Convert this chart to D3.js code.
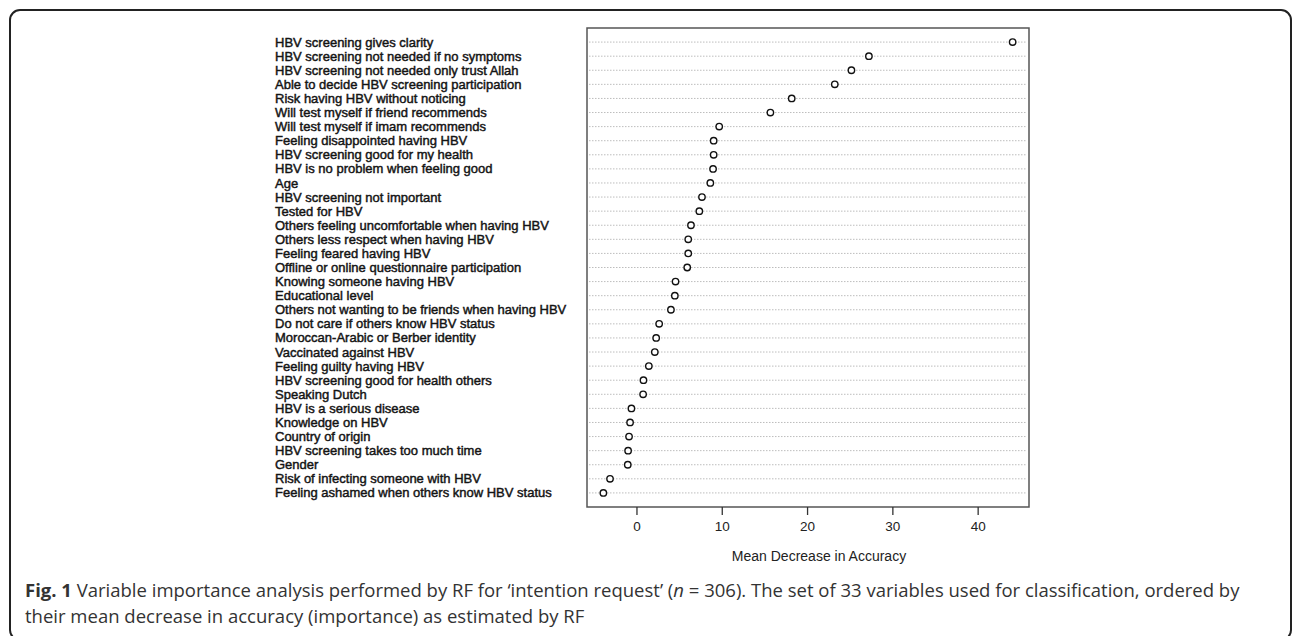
<!DOCTYPE html>
<html>
<head>
<meta charset="utf-8">
<script src="https://cdn.jsdelivr.net/npm/d3@7"></script>
<style>
  body { margin: 0; background: #fff; }
  svg { display: block; }
</style>
</head>
<body>
<div id="graphic"></div>
<script>
// variables, ordered top to bottom as in the figure
var variables = [
    "HBV screening gives clarity",
    "HBV screening not needed if no symptoms",
    "HBV screening not needed only trust Allah",
    "Able to decide HBV screening participation",
    "Risk having HBV without noticing",
    "Will test myself if friend recommends",
    "Will test myself if imam recommends",
    "Feeling disappointed having HBV",
    "HBV screening good for my health",
    "HBV is no problem when feeling good",
    "Age",
    "HBV screening not important",
    "Tested for HBV",
    "Others feeling uncomfortable when having HBV",
    "Others less respect when having HBV",
    "Feeling feared having HBV",
    "Offline or online questionnaire participation",
    "Knowing someone having HBV",
    "Educational level",
    "Others not wanting to be friends when having HBV",
    "Do not care if others know HBV status",
    "Moroccan-Arabic or Berber identity",
    "Vaccinated against HBV",
    "Feeling guilty having HBV",
    "HBV screening good for health others",
    "Speaking Dutch",
    "HBV is a serious disease",
    "Knowledge on HBV",
    "Country of origin",
    "HBV screening takes too much time",
    "Gender",
    "Risk of infecting someone with HBV",
    "Feeling ashamed when others know HBV status"
];

// mean decrease in accuracy, same order
var meanDecrease = [
    44.1, 27.25, 25.2, 23.25, 18.2, 15.7, 9.7, 9.05, 9.05, 8.98, 8.66,
    7.68, 7.37, 6.39, 6.07, 6.07, 5.95, 4.58, 4.5, 4.04, 2.66, 2.31,
    2.15, 1.45, 0.82, 0.78, -0.59, -0.75, -0.87, -0.98, -1.02, -3.1, -3.88
];

var xTicks = [0, 10, 20, 30, 40];
var xTitle = "Mean Decrease in Accuracy";

var W = 1293, H = 636;
var box = { left: 587, right: 1029, top: 28, bottom: 507 };

var svg = d3.select("#graphic").append("svg")
    .attr("width", W)
    .attr("height", H);

// outer figure frame
svg.append("rect")
    .attr("x", 10).attr("y", 10)
    .attr("width", 1281).attr("height", 630)
    .attr("rx", 10).attr("ry", 10)
    .attr("fill", "none")
    .attr("stroke", "#222")
    .attr("stroke-width", 2);

// like R dotchart: range padded by 4%
var lo = d3.min(meanDecrease), hi = d3.max(meanDecrease);
var pad = (hi - lo) * 0.04;
var x = d3.scaleLinear()
    .domain([lo - pad, hi + pad])
    .range([box.left, box.right]);

var n = variables.length;
var y = d3.scaleLinear()
    .domain([0, n + 1])
    .range([box.bottom, box.top]);

var rows = variables.map(function (v, i) {
    return { name: v, value: meanDecrease[i], pos: n - i };
});

// dotted guide lines
svg.append("g").selectAll("line")
    .data(rows)
    .enter().append("line")
    .attr("x1", box.left + 2)
    .attr("x2", box.right - 2)
    .attr("y1", function (d) { return y(d.pos); })
    .attr("y2", function (d) { return y(d.pos); })
    .attr("stroke", "#bdbdbd")
    .attr("stroke-width", 1)
    .attr("stroke-dasharray", "1.5,1.5");

// labels
svg.append("g").selectAll("text")
    .data(rows)
    .enter().append("text")
    .attr("x", 275)
    .attr("y", function (d) { return y(d.pos); })
    .attr("dy", "0.35em")
    .attr("font-family", "Liberation Sans, Arial, sans-serif")
    .attr("font-size", "13px")
    .attr("fill", "#141414")
    .attr("stroke", "#141414")
    .attr("stroke-width", 0.45)
    .text(function (d) { return d.name; });

// points
svg.append("g").selectAll("circle")
    .data(rows)
    .enter().append("circle")
    .attr("cx", function (d) { return x(d.value); })
    .attr("cy", function (d) { return y(d.pos); })
    .attr("r", 3.2)
    .attr("fill", "#fff")
    .attr("stroke", "#111")
    .attr("stroke-width", 1.4);

// plot box
svg.append("rect")
    .attr("x", box.left).attr("y", box.top)
    .attr("width", box.right - box.left)
    .attr("height", box.bottom - box.top)
    .attr("fill", "none")
    .attr("stroke", "#555")
    .attr("stroke-width", 1.5);

// x axis
var xAxis = svg.append("g")
    .attr("transform", "translate(0," + box.bottom + ")")
    .call(d3.axisBottom(x).tickValues(xTicks).tickSize(8).tickPadding(6));
xAxis.select(".domain").remove();
xAxis.selectAll(".tick line").attr("stroke", "#333").attr("stroke-width", 1.3);
xAxis.selectAll(".tick text")
    .attr("font-family", "Liberation Sans, Arial, sans-serif")
    .attr("font-size", "13.5px")
    .attr("fill", "#222");

svg.append("text")
    .attr("x", (box.left + box.right) / 2 + 11)
    .attr("y", 561)
    .attr("text-anchor", "middle")
    .attr("font-family", "Liberation Sans, Arial, sans-serif")
    .attr("font-size", "14px")
    .attr("fill", "#222")
    .text(xTitle);

// caption
var cap = svg.append("g")
    .attr("font-family", "Open Sans, sans-serif")
    .attr("font-size", "18.5px")
    .attr("fill", "#333");

var line1 = cap.append("text").attr("x", 25).attr("y", 597);
line1.append("tspan").attr("font-weight", "bold").text("Fig. 1");
line1.append("tspan").text(" Variable importance analysis performed by RF for \u2018intention request\u2019 (");
line1.append("tspan").attr("font-style", "italic").text("n");
line1.append("tspan").text(" = 306). The set of 33 variables used for classification, ordered by");

cap.append("text").attr("x", 25).attr("y", 623)
    .text("their mean decrease in accuracy (importance) as estimated by RF");
</script>
</body>
</html>
